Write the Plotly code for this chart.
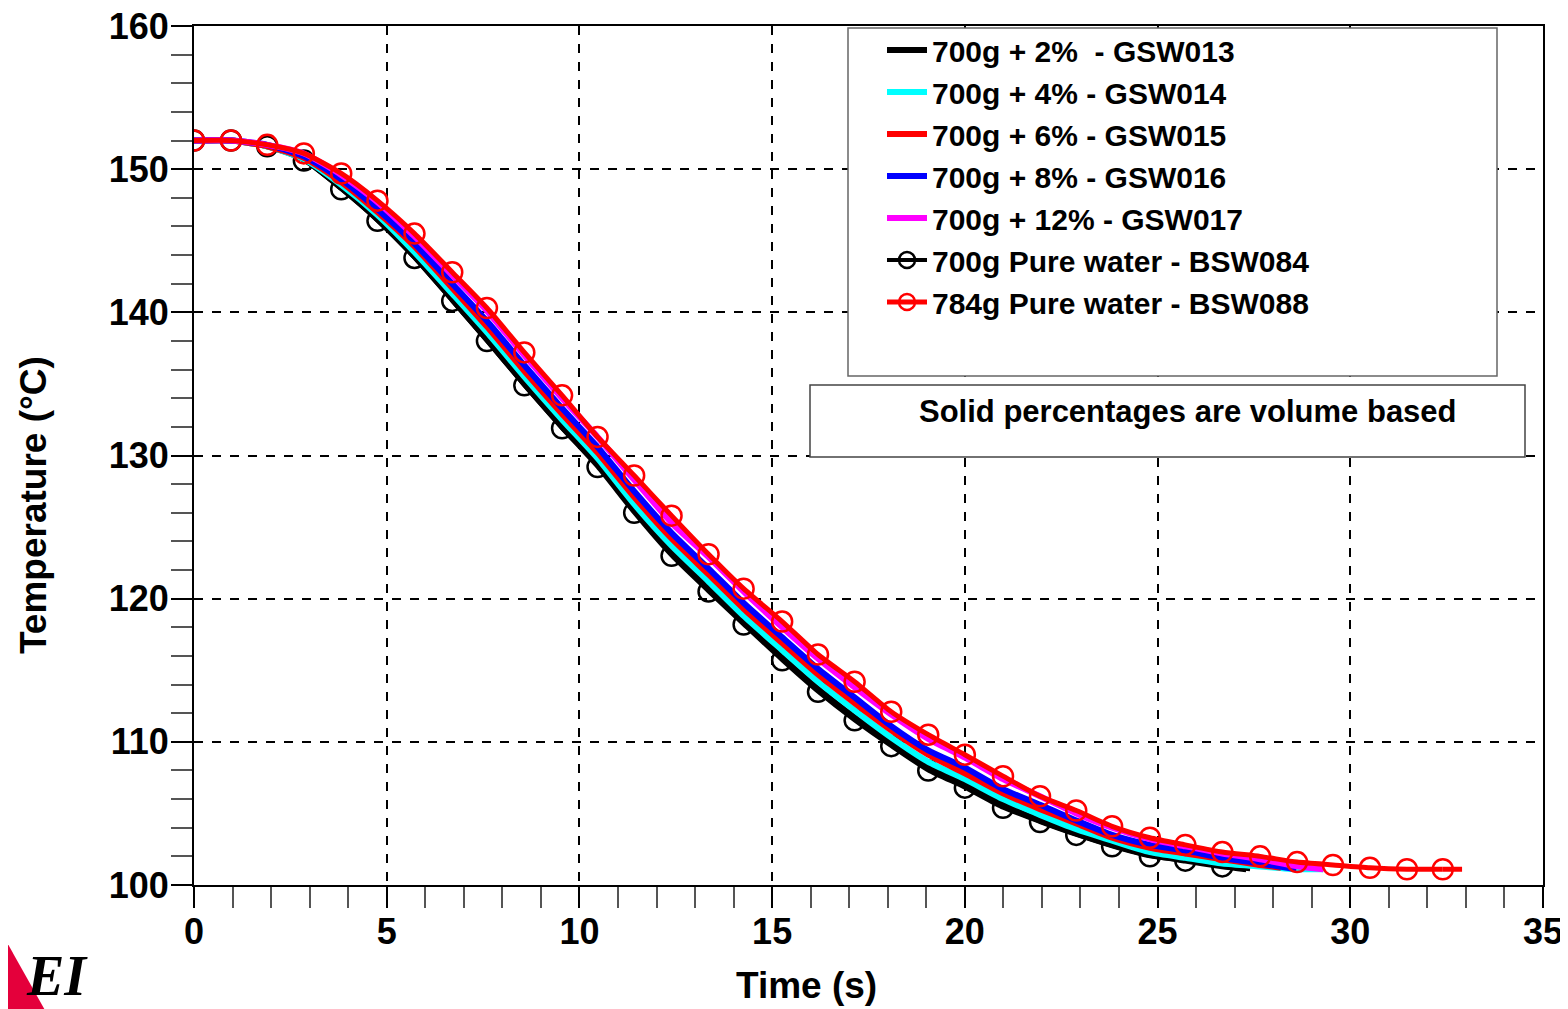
import plotly.graph_objects as go

# ---------------- data ----------------
t_grid = [0, 0.96, 1.9, 2.85, 3.82, 4.76, 5.72, 6.7, 7.6, 8.57, 9.55, 10.47, 11.42,
          12.39, 13.35, 14.26, 15.26, 16.19, 17.14, 18.09, 19.05, 20.0, 20.99, 21.95,
          22.89, 23.82, 24.8, 25.72, 26.68, 27.66, 28.62, 29.55, 30.51, 31.47, 32.4]

# 700g + 2% - GSW013 (black line)
t_013 = t_grid[:29] + [27.3]
T_013 = [152.0, 152.0, 151.6, 150.7, 148.7, 146.5, 143.9, 140.9, 138.1, 135.0, 132.0,
         129.4, 126.2, 123.2, 120.8, 118.4, 115.9, 113.7, 111.7, 109.9, 108.2, 107.0,
         105.6, 104.5, 103.6, 102.8, 102.1, 101.7, 101.3, 101.1]

# 700g + 4% - GSW014 (cyan)
t_014 = t_grid[:30] + [28.62, 29.3]
T_014 = [152.0, 152.0, 151.6, 150.7, 148.9, 146.8, 144.2, 141.3, 138.6, 135.5, 132.5,
         129.8, 126.6, 123.7, 121.2, 118.8, 116.4, 114.2, 112.2, 110.3, 108.6, 107.4,
         106.0, 104.9, 103.9, 103.1, 102.3, 101.9, 101.5, 101.3, 101.1, 101.1]

# 700g + 6% - GSW015 (red)
t_015 = t_grid[:30] + [28.2]
T_015 = [152.0, 152.0, 151.6, 150.8, 149.1, 147.0, 144.6, 141.7, 139.0, 135.9, 132.9,
         130.2, 127.1, 124.2, 121.7, 119.3, 116.9, 114.7, 112.7, 110.8, 109.1, 107.8,
         106.4, 105.3, 104.3, 103.3, 102.6, 102.2, 101.8, 101.4, 101.2]

# 700g + 8% - GSW016 (blue)
t_016 = t_grid[:30] + [28.6]
T_016 = [152.0, 152.0, 151.7, 150.9, 149.3, 147.2, 144.8, 142.0, 139.4, 136.3, 133.3,
         130.6, 127.5, 124.6, 122.1, 119.7, 117.3, 115.1, 113.1, 111.1, 109.4, 108.2,
         106.7, 105.6, 104.5, 103.5, 102.8, 102.4, 101.9, 101.5, 101.1]

# 700g + 12% - GSW017 (magenta)
t_017 = t_grid[:31] + [29.3]
T_017 = [152.0, 152.0, 151.7, 151.1, 149.6, 147.7, 145.3, 142.6, 140.1, 137.0, 134.0,
         131.3, 128.3, 125.3, 122.9, 120.5, 118.0, 115.8, 113.8, 111.9, 110.2, 108.9,
         107.4, 106.2, 105.0, 104.0, 103.2, 102.7, 102.2, 101.8, 101.3, 101.1]

# 700g Pure water - BSW084 (black circles)
t_084 = t_grid[:29]
T_084 = [152.0, 152.0, 151.6, 150.6, 148.6, 146.4, 143.8, 140.8, 138.0, 134.9, 131.9,
         129.2, 126.0, 123.0, 120.5, 118.2, 115.7, 113.5, 111.5, 109.7, 108.0, 106.8,
         105.4, 104.4, 103.5, 102.7, 102.0, 101.7, 101.3]
t_084_tail = [26.68, 27.4]
T_084_tail = [101.3, 101.1]

# 784g Pure water - BSW088 (red circles)
t_088 = t_grid
T_088 = [152.0, 152.0, 151.7, 151.1, 149.7, 147.8, 145.5, 142.8, 140.3, 137.2, 134.2,
         131.3, 128.6, 125.8, 123.1, 120.7, 118.4, 116.1, 114.2, 112.1, 110.5, 109.1,
         107.6, 106.2, 105.2, 104.1, 103.3, 102.8, 102.3, 102.0, 101.6, 101.4, 101.2,
         101.1, 101.1]
t_088_tail = [32.4, 32.9]
T_088_tail = [101.1, 101.1]

names = ["700g + 2%  - GSW013", "700g + 4% - GSW014", "700g + 6% - GSW015",
         "700g + 8% - GSW016", "700g + 12% - GSW017", "700g Pure water - BSW084",
         "784g Pure water - BSW088"]
note_text = "Solid percentages are volume based"

x_ticks = [0, 5, 10, 15, 20, 25, 30, 35]
y_ticks = [100, 110, 120, 130, 140, 150, 160]

# ---------------- figure ----------------
FONT = "Liberation Sans, Arial, sans-serif"
fig = go.Figure()

def px2px(px):
    return (px - 194) / 1349.0

def py2py(py):
    return (885 - py) / 859.0

def line_trace(x, y, name, color, rank, width=6):
    return go.Scatter(x=x, y=y, name=name, mode="lines",
                      line=dict(color=color, width=width, shape="spline", smoothing=0.6),
                      legendrank=rank)

fig.add_trace(line_trace(t_013, T_013, names[0], "#000000", 1))
fig.add_trace(go.Scatter(x=t_084_tail, y=T_084_tail, mode="lines", showlegend=False,
                         line=dict(color="#000000", width=4), hoverinfo="skip"))
fig.add_trace(go.Scatter(x=t_084, y=T_084, name=names[5], mode="lines+markers",
                         line=dict(color="#000000", width=4, shape="spline", smoothing=0.6),
                         marker=dict(symbol="circle-open", size=20, color="#000000",
                                     line=dict(width=2.5, color="#000000")),
                         legendrank=6))
fig.add_trace(line_trace(t_014, T_014, names[1], "#00FFFF", 2))
fig.add_trace(line_trace(t_015, T_015, names[2], "#FF0000", 3))
fig.add_trace(line_trace(t_016, T_016, names[3], "#0000FF", 4))
fig.add_trace(line_trace(t_017, T_017, names[4], "#FF00FF", 5))
fig.add_trace(go.Scatter(x=t_088_tail, y=T_088_tail, mode="lines", showlegend=False,
                         line=dict(color="#FF0000", width=5), hoverinfo="skip"))
fig.add_trace(go.Scatter(x=t_088, y=T_088, name=names[6], mode="lines+markers",
                         line=dict(color="#FF0000", width=5, shape="spline", smoothing=0.6),
                         marker=dict(symbol="circle-open", size=20, color="#FF0000",
                                     line=dict(width=2.5, color="#FF0000")),
                         legendrank=7))

axis_common = dict(
    showline=True, linecolor="#000000", linewidth=2, mirror=True,
    ticks="outside", ticklen=21, tickwidth=2, tickcolor="#000000",
    showgrid=True, gridcolor="#000000", gridwidth=2, griddash="dash",
    zeroline=False, automargin=False, ticklabeloverflow="allow",
    tickfont=dict(family=FONT, size=36, color="#000000", weight="bold"),
)

fig.update_xaxes(range=[0, 35], tickvals=x_ticks, ticktext=[str(v) for v in x_ticks],
                 ticklabelstandoff=-7,
                 minor=dict(dtick=1, ticks="outside", ticklen=21, tickwidth=2,
                            tickcolor="#555555", showgrid=False),
                 **axis_common)
fig.update_yaxes(range=[100, 160], tickvals=y_ticks, ticktext=[str(v) for v in y_ticks],
                 ticklabelstandoff=-5,
                 minor=dict(dtick=2, ticks="outside", ticklen=21, tickwidth=2,
                            tickcolor="#555555", showgrid=False),
                 **axis_common)

shapes = [
    # legend frame
    dict(type="rect", xref="paper", yref="paper",
         x0=px2px(848), x1=px2px(1497), y0=py2py(376), y1=py2py(28),
         fillcolor="#FFFFFF", line=dict(color="#666666", width=1.5), layer="above"),
    # note frame
    dict(type="rect", xref="paper", yref="paper",
         x0=px2px(810), x1=px2px(1525), y0=py2py(457), y1=py2py(385),
         fillcolor="#FFFFFF", line=dict(color="#444444", width=1.5), layer="above"),
    # logo fragment (red triangle)
    dict(type="path", xref="paper", yref="paper",
         path="M {0},{1} L {2},{3} L {4},{5} Z".format(px2px(0), py2py(930), px2px(46), py2py(1012),
                                                     px2px(0), py2py(1012)),
         fillcolor="#E4003B", line=dict(width=0), layer="above"),
]

annotations = [
    dict(text=note_text, xref="paper", yref="paper", x=px2px(1188), y=py2py(411),
         xanchor="center", yanchor="middle", showarrow=False,
         font=dict(family=FONT, size=31, color="#000000", weight="bold")),
    dict(text="Time (s)", xref="paper", yref="paper", x=px2px(806), y=py2py(985),
         xanchor="center", yanchor="middle", showarrow=False,
         font=dict(family=FONT, size=37, color="#000000", weight="bold")),
    dict(text="Temperature (°C)", xref="paper", yref="paper", x=px2px(33), y=py2py(505),
         xanchor="center", yanchor="middle", showarrow=False, textangle=-90,
         font=dict(family=FONT, size=37, color="#000000", weight="bold")),
    dict(text="<i><b>EI</b></i>", xref="paper", yref="paper", x=px2px(90), y=py2py(1009),
         xanchor="right", yanchor="bottom", showarrow=False,
         font=dict(family="Liberation Serif, serif", size=56, color="#000000")),
]

# The page body adds an 8 px offset, so the figure is 8 px smaller and margins shifted.
fig.update_layout(
    width=1560, height=1001,
    margin=dict(l=186, r=25, t=18, b=124, autoexpand=False),
    paper_bgcolor="#FFFFFF", plot_bgcolor="#FFFFFF",
    showlegend=True,
    legend=dict(x=px2px(882), y=py2py(24), xanchor="left", yanchor="top",
                bgcolor="rgba(0,0,0,0)", borderwidth=0,
                font=dict(family=FONT, size=30, color="#000000", weight="bold"),
                tracegroupgap=0, itemwidth=40),
    shapes=shapes, annotations=annotations,
)

fig.write_html("out.html")
